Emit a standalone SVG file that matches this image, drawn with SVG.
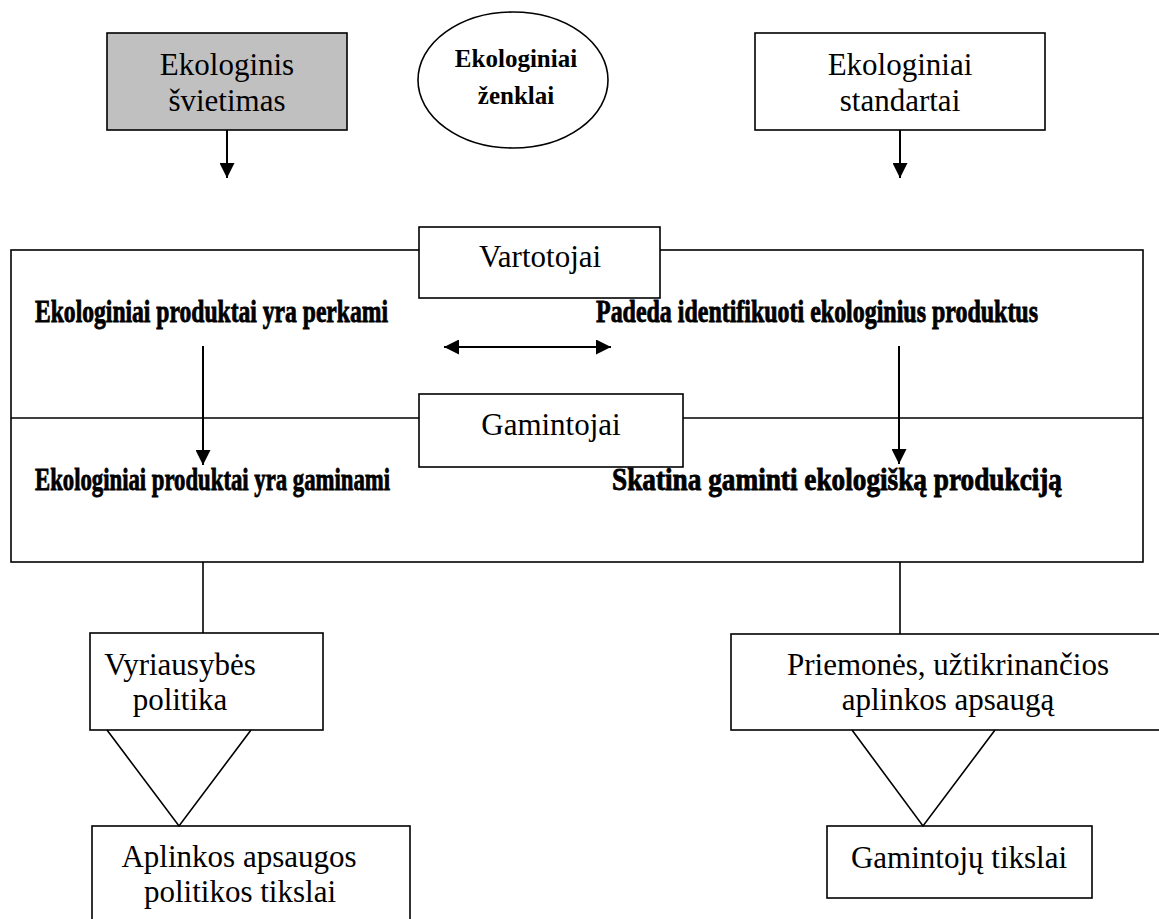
<svg xmlns="http://www.w3.org/2000/svg" width="1159" height="919" viewBox="0 0 1159 919">
  <defs>
    <marker id="head" viewBox="0 0 10 10" refX="10" refY="5" markerWidth="7.5" markerHeight="7.5" markerUnits="strokeWidth" orient="auto-start-reverse">
      <path d="M0,0 L10,5 L0,10 Z" fill="#000"/>
    </marker>
    <style>
      .box { fill: #fff; stroke: #000; stroke-width: 1.6; }
      .shade { fill: #c0c0c0; }
      .lbl { font-family: "Liberation Serif", "Times New Roman", serif; font-size: 31px; fill: #000; text-anchor: middle; }
      .hdr { font-family: "Liberation Serif", "Times New Roman", serif; font-size: 25px; font-weight: bold; fill: #000; text-anchor: middle; }
      .note { font-family: "Liberation Serif", "Times New Roman", serif; font-size: 26px; font-weight: bold; fill: #000; stroke: #000; stroke-width: 0.7; }
      .wire { fill: none; stroke: #000; stroke-width: 1.6; }
      .arrow { fill: none; stroke: #000; stroke-width: 2; marker-end: url(#head); }
      .arrow2 { fill: none; stroke: #000; stroke-width: 2; marker-start: url(#head); marker-end: url(#head); }
    </style>
  </defs>

  <rect width="1159" height="919" fill="#fff"/>

  <!-- outer frame with the consumer / producer bands -->
  <g id="frame">
    <rect class="box" x="11" y="250" width="1132" height="312"/>
    <line class="wire" x1="11" y1="418" x2="1143" y2="418"/>
    <!-- tall, condensed bold captions -->
    <text class="note" transform="translate(35 322) scale(1 1.2)" textLength="353" lengthAdjust="spacingAndGlyphs">Ekologiniai produktai yra perkami</text>
    <text class="note" transform="translate(596 322) scale(1 1.2)" textLength="442" lengthAdjust="spacingAndGlyphs">Padeda identifikuoti ekologinius produktus</text>
    <text class="note" transform="translate(35 490) scale(1 1.2)" textLength="355" lengthAdjust="spacingAndGlyphs">Ekologiniai produktai yra gaminami</text>
    <text class="note" transform="translate(612 490) scale(1 1.2)" textLength="450" lengthAdjust="spacingAndGlyphs">Skatina gaminti ekologišką produkciją</text>
  </g>

  <g id="svietimas">
    <rect class="box shade" x="107" y="33" width="240" height="97"/>
    <text class="lbl" x="227" y="75">Ekologinis</text>
    <text class="lbl" x="227" y="111">švietimas</text>
  </g>

  <g id="zenklai">
    <ellipse class="box" cx="513" cy="80" rx="95" ry="68"/>
    <text class="hdr" x="516" y="67">Ekologiniai</text>
    <text class="hdr" x="516" y="104">ženklai</text>
  </g>

  <g id="standartai">
    <rect class="box" x="755" y="33" width="290" height="97"/>
    <text class="lbl" x="900" y="75">Ekologiniai</text>
    <text class="lbl" x="900" y="111">standartai</text>
  </g>

  <g id="vartotojai">
    <rect class="box" x="419" y="227" width="241" height="71"/>
    <text class="lbl" x="540" y="267">Vartotojai</text>
  </g>

  <g id="gamintojai">
    <rect class="box" x="419" y="394" width="264" height="73"/>
    <text class="lbl" x="551" y="435">Gamintojai</text>
  </g>

  <g id="vyriausybe">
    <rect class="box" x="90" y="633" width="233" height="97"/>
    <text class="lbl" x="180" y="675">Vyriausybės</text>
    <text class="lbl" x="180" y="710">politika</text>
  </g>

  <g id="tikslai-politikos">
    <rect class="box" x="92" y="826" width="318" height="100"/>
    <text class="lbl" x="239" y="867">Aplinkos apsaugos</text>
    <text class="lbl" x="240" y="902">politikos tikslai</text>
  </g>

  <g id="priemones">
    <rect class="box" x="731" y="634" width="432" height="96"/>
    <text class="lbl" x="948" y="675">Priemonės, užtikrinančios</text>
    <text class="lbl" x="948" y="710">aplinkos apsaugą</text>
  </g>

  <g id="tikslai-gamintoju">
    <rect class="box" x="827" y="826" width="265" height="72"/>
    <text class="lbl" x="959" y="868">Gamintojų tikslai</text>
  </g>

  <g id="connectors">
    <line class="arrow" x1="227" y1="130" x2="227" y2="178"/>
    <line class="arrow" x1="900" y1="130" x2="900" y2="178"/>
    <line class="arrow2" x1="444" y1="347" x2="611" y2="347"/>
    <line class="arrow" x1="203" y1="346" x2="203" y2="465"/>
    <line class="arrow" x1="899" y1="346" x2="899" y2="464"/>
    <line class="wire" x1="203" y1="562" x2="203" y2="633"/>
    <line class="wire" x1="900" y1="562" x2="900" y2="634"/>
    <polyline class="wire" points="107,730 179,826 251,730"/>
    <polyline class="wire" points="852,730 923,826 995,730"/>
  </g>
</svg>
